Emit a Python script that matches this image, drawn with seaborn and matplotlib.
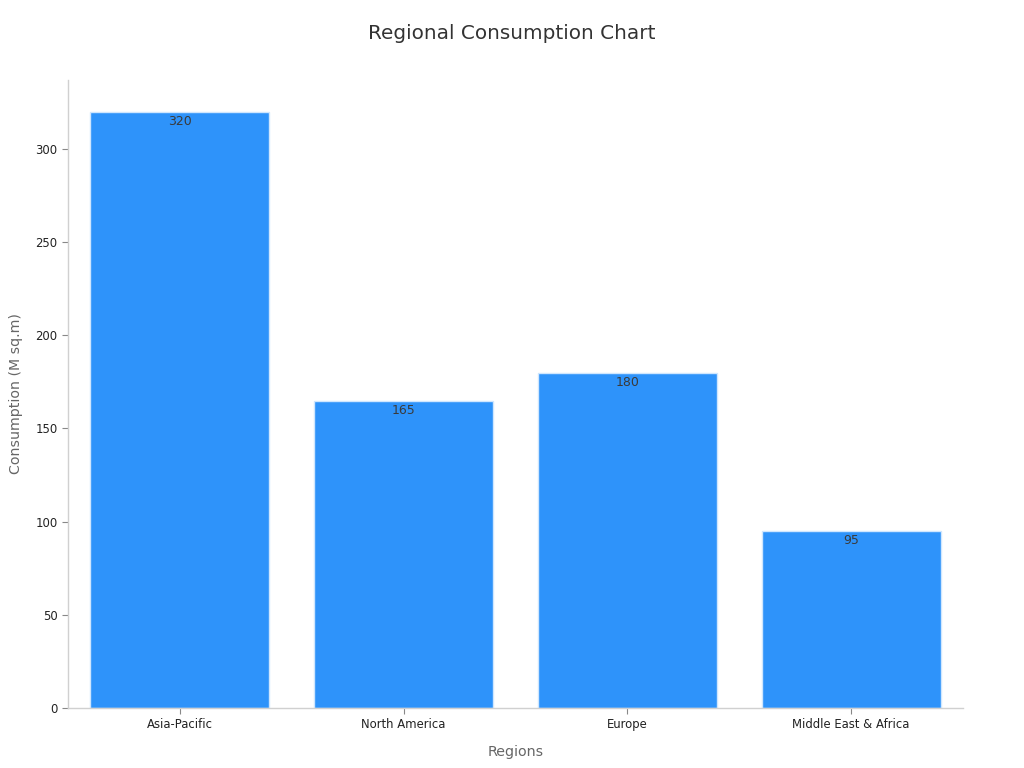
import matplotlib
matplotlib.use("Agg")
import matplotlib.pyplot as plt
import seaborn as sns
import pandas as pd

regions = ["Asia-Pacific", "North America", "Europe", "Middle East & Africa"]
consumption = [320, 165, 180, 95]

sns.set_theme(style="white")
plt.rcParams['font.family'] = ['DejaVu Sans']

df = pd.DataFrame({"Regions": regions, "Consumption": consumption})

fig = plt.figure(figsize=(10.24, 7.68), dpi=100)
ax = fig.add_axes([0.0664, 0.0781, 0.874, 0.8177])

sns.barplot(data=df, x="Regions", y="Consumption", color="#2E93FA", saturation=1,
            width=0.8, edgecolor="#cfe6fe", linewidth=1, ax=ax)

ax.set_xlim(-0.5, 3.5)
ax.set_ylim(0, 337)
ax.set_yticks([0, 50, 100, 150, 200, 250, 300])

for c in ax.containers:
    ax.bar_label(c, labels=[str(v) for v in consumption], padding=-11.5, fontsize=9, color="#3a3a3a")

fig.suptitle("Regional Consumption Chart", x=0.5, y=0.957, va="center",
             fontsize=14.4, color="#333333")
ax.set_xlabel("Regions", fontsize=10.3, color="#666666", labelpad=10)
ax.set_ylabel("Consumption (M sq.m)", fontsize=10.2, color="#666666", labelpad=9)

ax.tick_params(axis="both", labelsize=8.4, colors="#222222", length=4, width=0.8, color="#888888", bottom=True, left=True)
for s in ["top", "right"]:
    ax.spines[s].set_visible(False)
for s in ["left", "bottom"]:
    ax.spines[s].set_color("#d0d0d0")
    ax.spines[s].set_linewidth(1)

fig.savefig("out.png", dpi=100)
